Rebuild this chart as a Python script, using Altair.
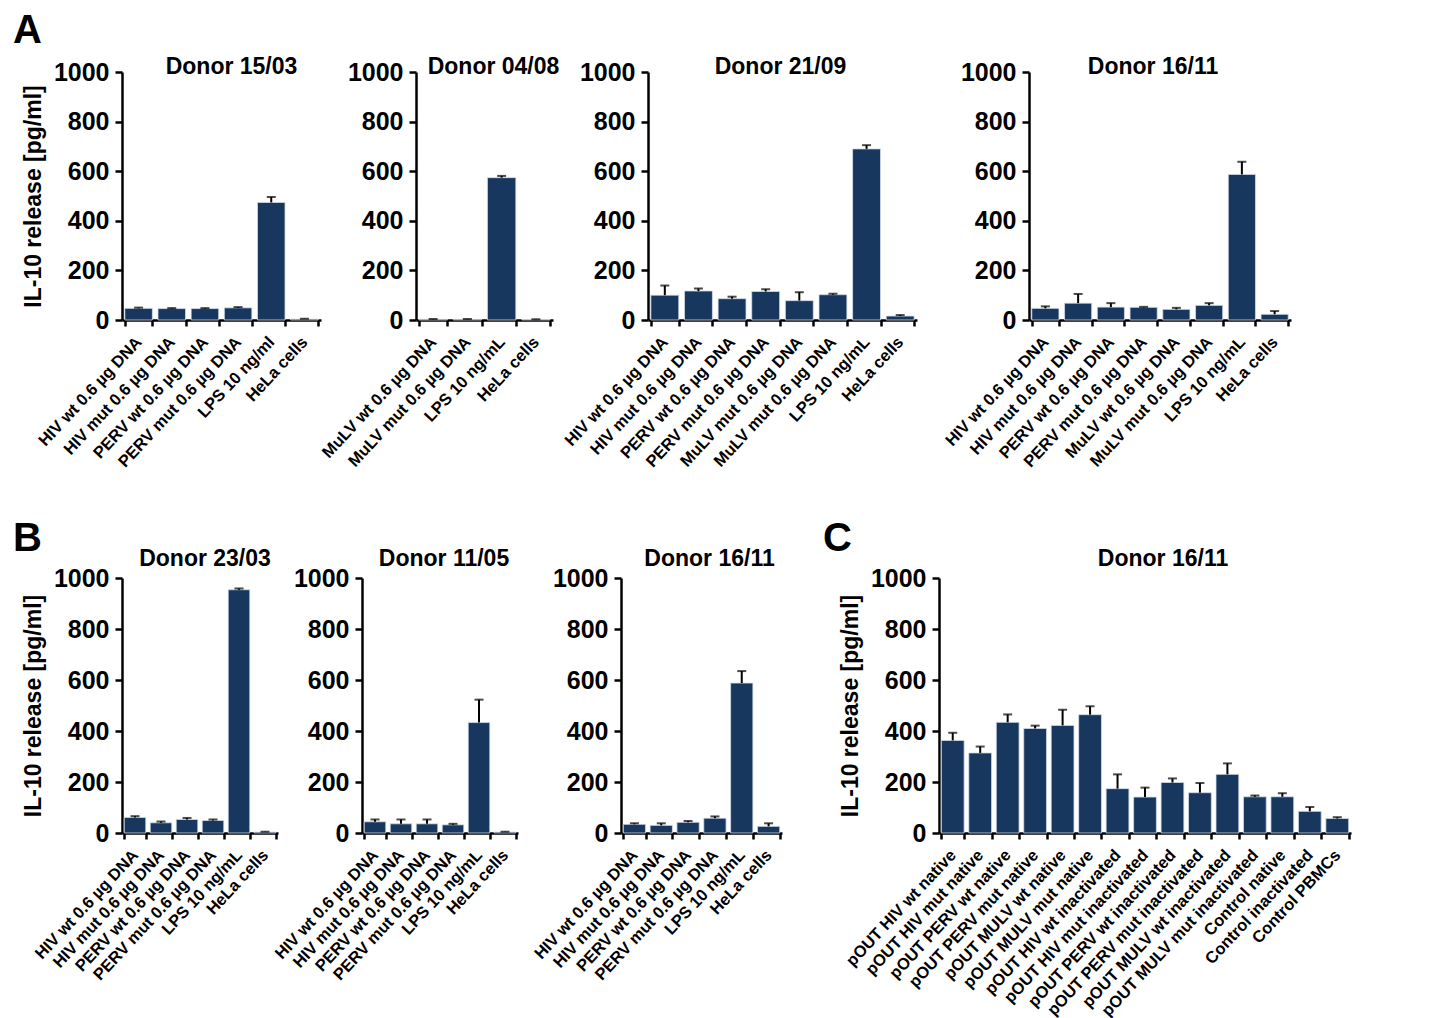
import json
import altair as alt
import pandas as pd

FONT = "Liberation Sans"
BAR = "#17375E"
Y_TICKS = [0, 200, 400, 600, 800, 1000]
Y_TITLE = "IL-10 release [pg/ml]"

# ---------------- data ----------------
A1_title = "Donor 15/03"
A1_labels = ["HIV wt 0.6 µg DNA", "HIV mut 0.6 µg DNA", "PERV wt 0.6 µg DNA",
             "PERV mut 0.6 µg DNA", "LPS 10 ng/ml", "HeLa cells"]
A1_values = [47, 46, 46, 49, 474, 4]
A1_errors = [3, 2, 2, 3, 22, 1]

A2_title = "Donor 04/08"
A2_labels = ["MuLV wt 0.6 µg DNA", "MuLV mut 0.6 µg DNA", "LPS 10 ng/mL", "HeLa cells"]
A2_values = [3, 3, 574, 2]
A2_errors = [1, 1, 7, 1]

A3_title = "Donor 21/09"
A3_labels = ["HIV wt 0.6 µg DNA", "HIV mut 0.6 µg DNA", "PERV wt 0.6 µg DNA",
             "PERV mut 0.6 µg DNA", "MuLV mut 0.6 µg DNA", "MuLV mut 0.6 µg DNA",
             "LPS 10 ng/mL", "HeLa cells"]
A3_values = [100, 117, 86, 115, 78, 102, 690, 16]
A3_errors = [39, 10, 8, 9, 34, 4, 15, 4]

A4_title = "Donor 16/11"
A4_labels = ["HIV wt 0.6 µg DNA", "HIV mut 0.6 µg DNA", "PERV wt 0.6 µg DNA",
             "PERV mut 0.6 µg DNA", "MuLV wt 0.6 µg DNA", "MuLV mut 0.6 µg DNA",
             "LPS 10 ng/mL", "HeLa cells"]
A4_values = [47, 68, 52, 51, 43, 59, 587, 23]
A4_errors = [8, 37, 16, 2, 6, 9, 51, 13]

B_labels = ["HIV wt 0.6 µg DNA", "HIV mut 0.6 µg DNA", "PERV wt 0.6 µg DNA",
            "PERV mut 0.6 µg DNA", "LPS 10 ng/mL", "HeLa cells"]

B1_title = "Donor 23/03"
B1_values = [61, 40, 53, 49, 954, 4]
B1_errors = [5, 5, 6, 4, 5, 1]

B2_title = "Donor 11/05"
B2_values = [44, 36, 36, 32, 433, 4]
B2_errors = [9, 17, 17, 4, 90, 1]

B3_title = "Donor 16/11"
B3_values = [34, 30, 42, 58, 588, 26]
B3_errors = [4, 8, 5, 7, 47, 12]

C_title = "Donor 16/11"
C_labels = ["pOUT HIV wt native", "pOUT HIV mut native", "pOUT PERV wt native",
            "pOUT PERV mut native", "pOUT MULV wt native", "pOUT MULV mut native",
            "pOUT HIV wt inactivated", "pOUT HIV mut inactivated",
            "pOUT PERV wt inactivated", "pOUT PERV mut inactivated",
            "pOUT MULV wt inactivated", "pOUT MULV mut inactivated",
            "Control native", "Control inactivated", "Control PBMCs"]
C_values = [363, 314, 434, 410, 422, 464, 174, 141, 198, 158, 230, 142, 142, 85, 57]
C_errors = [30, 25, 31, 11, 61, 33, 56, 37, 16, 38, 43, 5, 14, 17, 5]


def panel(labels, values, errors, width, height, title, title_dx, title_y,
          ytitle=False, letter=None, letter_x=0, letter_y=0):
    n = len(labels)
    df = pd.DataFrame({
        "idx": list(range(n)),
        "value": values,
        "upper": [v + e for v, e in zip(values, errors)],
    })
    label_expr = json.dumps(labels, ensure_ascii=False) + "[datum.value]"
    x = alt.X(
        "idx:O",
        scale=alt.Scale(paddingInner=0.17, paddingOuter=0.085),
        axis=alt.Axis(
            title="", labelExpr=label_expr, labelAngle=-47, labelAlign="right",
            labelBaseline="middle", labelFontSize=16.5, labelPadding=13,
            tickBand="extent", labelLimit=0, labelOverlap=False, tickSize=6,
        ),
    )
    y = alt.Y(
        "value:Q",
        scale=alt.Scale(domain=[0, 1000], nice=False),
        axis=alt.Axis(
            title=Y_TITLE if ytitle else "", values=Y_TICKS, format="d",
            labelFontSize=25, titleFontSize=23, tickSize=7, labelPadding=6,
            titlePadding=8,
        ),
    )
    base = alt.Chart(df)
    bars = base.mark_bar(color=BAR, stroke="#d5dde8", strokeWidth=0.8).encode(x=x, y=y)
    rules = base.mark_rule(color="black", strokeWidth=2).encode(
        x="idx:O", y="value:Q", y2="upper:Q")
    caps = base.mark_tick(color="black", thickness=2, size=9, orient="horizontal").encode(
        x="idx:O", y="upper:Q")
    ttl = alt.Chart(pd.DataFrame({"t": [title]})).mark_text(
        font=FONT, fontSize=23, fontWeight="bold", align="center",
        baseline="alphabetic", color="black",
    ).encode(text="t:N", x=alt.value(width / 2 + title_dx), y=alt.value(title_y))
    layers = [bars, rules, caps, ttl]
    if letter:
        lt = alt.Chart(pd.DataFrame({"t": [letter]})).mark_text(
            font=FONT, fontSize=40, fontWeight="bold", align="left",
            baseline="top", color="black",
        ).encode(text="t:N", x=alt.value(letter_x), y=alt.value(letter_y))
        layers.append(lt)
    return alt.layer(*layers).properties(width=width, height=height)


def spacer(width):
    return alt.Chart(pd.DataFrame({"s": [""]})).mark_text(opacity=0, fontSize=1).encode(
        text="s:N").properties(width=width, height=1)


HA = 248
HB = 255

a1 = panel(A1_labels, A1_values, A1_errors, 199, HA, A1_title, 10, 2, ytitle=True,
           letter="A", letter_x=-109, letter_y=-61)
a2 = panel(A2_labels, A2_values, A2_errors, 137, HA, A2_title, 9, 2)
a3 = panel(A3_labels, A3_values, A3_errors, 269, HA, A3_title, -2, 2)
a4 = panel(A4_labels, A4_values, A4_errors, 262, HA, A4_title, -7, 2)

b1 = panel(B_labels, B1_values, B1_errors, 156, HB, B1_title, 5, -12, ytitle=True,
           letter="B", letter_x=-109, letter_y=-59)
b2 = panel(B_labels, B2_values, B2_errors, 156, HB, B2_title, 4, -12)
b3 = panel(B_labels, B3_values, B3_errors, 161, HB, B3_title, 8, -12)
c = panel(C_labels, C_values, C_errors, 412, HB, C_title, 18, -12, ytitle=True,
          letter="C", letter_x=-116, letter_y=-59)

rowA = alt.hconcat(a1, spacer(95), a2, spacer(95), a3, spacer(112), a4,
                   spacing=0, bounds="flush")
rowB = alt.hconcat(b1, spacer(84), b2, spacer(103), b3, spacer(157), c,
                   spacing=0, bounds="flush")

chart = alt.vconcat(rowA, rowB, spacing=47).properties(
    padding={"left": 4, "top": 2, "right": 5, "bottom": 5}
).configure_view(stroke="transparent").configure_axis(
    domainColor="black", domainWidth=2.5, tickColor="black", tickWidth=2.5,
    labelColor="black", titleColor="black", labelFont=FONT, titleFont=FONT,
    labelFontWeight="bold", titleFontWeight="bold", grid=False,
).configure_text(font=FONT)

chart.save("out.html", embed_options={"renderer": "svg", "actions": False})
